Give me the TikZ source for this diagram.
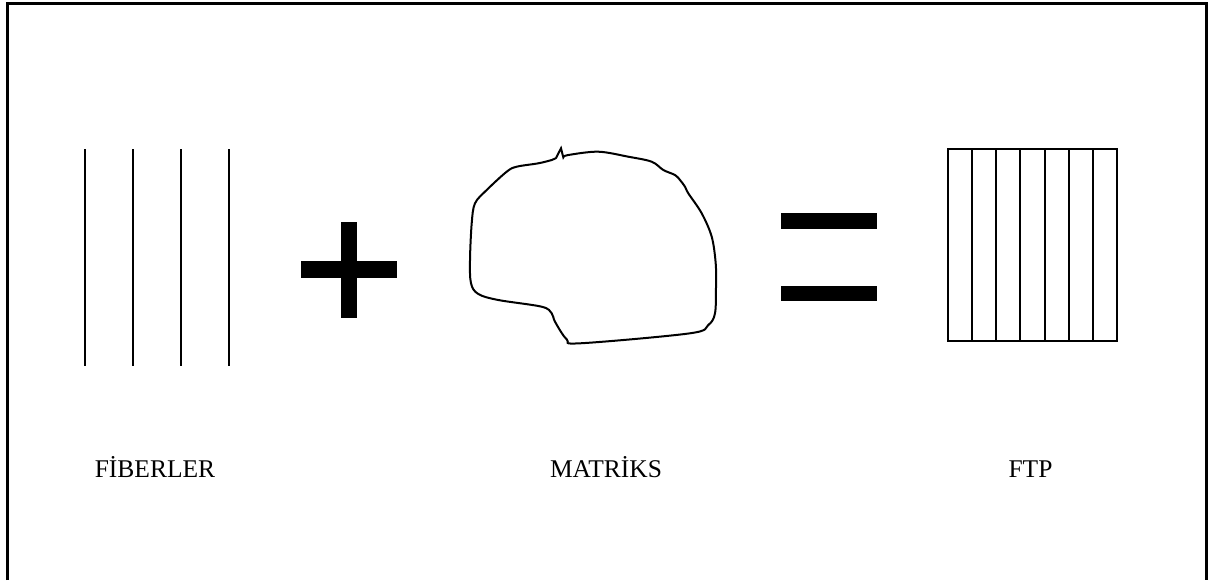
\documentclass[tikz,border=0pt]{standalone}
\usepackage{fontspec}
\setmainfont{Liberation Serif}
\usepackage{tikz}

\begin{document}
\begin{tikzpicture}[x=0.5pt,y=-0.5pt,line width=1pt,
  fiber/.style={line width=1.1pt},
  bar/.style={fill=black,draw=none},
  caption/.style={font=\fontsize{12.75}{15}\selectfont,anchor=base,inner sep=0pt}]
  \useasboundingbox (0,0) rectangle (1210,580);
  % frame
  \draw[line width=1.5pt] (7.5,580) -- (7.5,3) -- (1206.5,3) -- (1206.5,580);
  % fibers
  \foreach \x in {84.7,132.7,180.7,228.7}
    \draw[fiber] (\x,149) -- (\x,366);
  % plus
  \fill[bar] (341,222) rectangle (356.5,317.5);
  \fill[bar] (301,261) rectangle (397,277.5);
  % matrix blob
  \draw[line width=1pt] plot[smooth,tension=0.55] coordinates {
      (563.3,157.3) (568.3,155) (598.3,151.7) (628.3,156.7) (651.7,161.7)
      (663.3,170) (675,175) (680,180) (685,186.7) (688.3,193.3)
      (701.7,213.3) (711.7,236.7) (715.7,263.3) (716,286.7) (715,313.3)
      (708.3,325) (690,333.3) (580,343.3) (566.7,339.3) (555,321.7)
      (551.7,313.3) (541.7,306.7) (498.3,300) (478.3,294) (471,283.3)
      (470,260) (471.7,223.3) (475,203.3) (486.7,190) (506.7,171.7)
      (516.7,166.7) (538.3,163.3) (551.7,160) (556,158)}
    -- (561,148.3) -- cycle;
  % equals
  \fill[bar] (781,213.3) rectangle (877.3,229.3);
  \fill[bar] (781,285.7) rectangle (877.3,301);
  % FTP
  \draw (948.3,149) rectangle (1116.7,341);
  \foreach \i in {1,...,6}
    \draw ({948.3+\i*24.06},149) -- ({948.3+\i*24.06},341);
  % labels
  \node[caption] (fiberler) at (155,477) {FİBERLER};
  \node[caption] (matriks) at (606,477) {MATRİKS};
  \node[caption] (ftp) at (1030.5,477) {FTP};
\end{tikzpicture}
\end{document}
